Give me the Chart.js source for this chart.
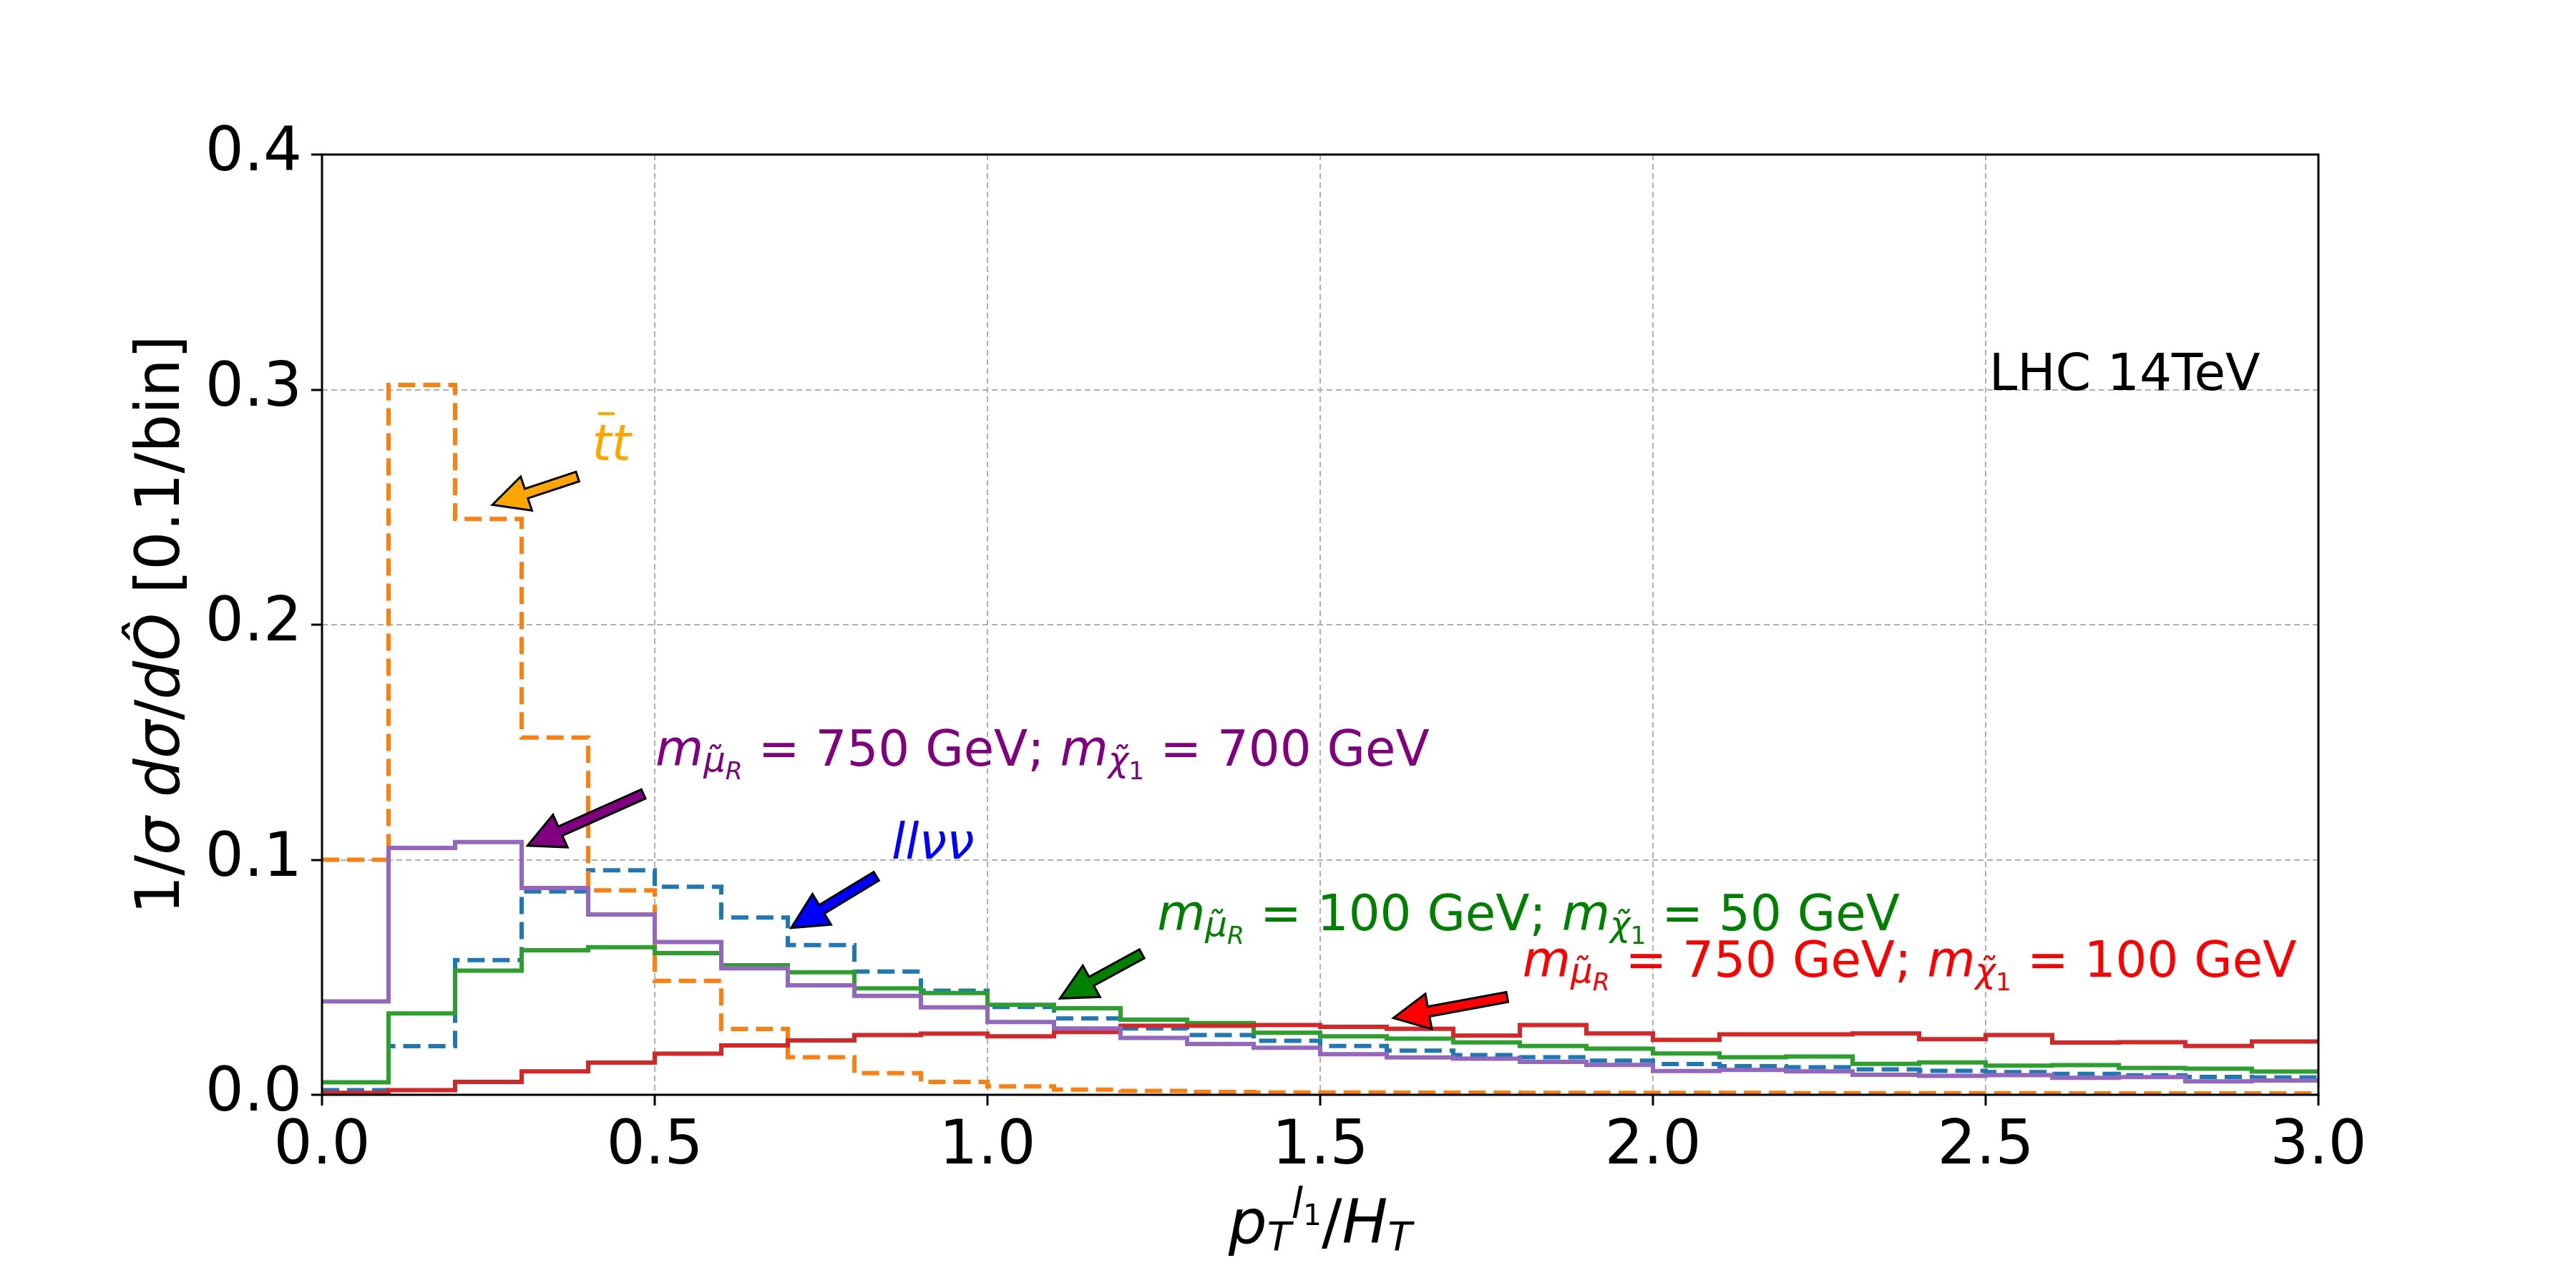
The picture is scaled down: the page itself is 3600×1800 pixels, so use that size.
<!DOCTYPE html>
<html lang="en">
<head>
<meta charset="UTF-8" />
<title>pT(l1)/HT distributions</title>
<script src="https://cdn.jsdelivr.net/npm/chart.js"></script>
<style>
  body { margin: 0; background: #fff; }
  canvas { display: block; }
</style>
</head>
<body>
<canvas id="chart" width="3600" height="1800"></canvas>
<script>
// bin edges (0.1 wide bins) and per-bin values
const binEdges = [0.0, 0.1, 0.2, 0.3, 0.4, 0.5, 0.6, 0.7, 0.8, 0.9, 1.0, 1.1, 1.2, 1.3, 1.4, 1.5,
  1.6, 1.7, 1.8, 1.9, 2.0, 2.1, 2.2, 2.3, 2.4, 2.5, 2.6, 2.7, 2.8, 2.9, 3.0];

const llvv = [0.0020, 0.0207, 0.0573, 0.0865, 0.0955, 0.0885, 0.0754, 0.0637, 0.0524, 0.0443,
  0.0374, 0.0325, 0.0282, 0.0254, 0.0230, 0.0208, 0.0188, 0.0169, 0.0160, 0.0145,
  0.0131, 0.0122, 0.0117, 0.0108, 0.0102, 0.0097, 0.0089, 0.0083, 0.0076, 0.0074];

const ttbar = [0.1000, 0.3020, 0.2450, 0.1520, 0.0870, 0.0485, 0.0280, 0.0160, 0.0092, 0.0055,
  0.0036, 0.0022, 0.0017, 0.0012, 0.0010, 0.0010, 0.0009, 0.0009, 0.0008, 0.0008,
  0.0008, 0.0008, 0.0007, 0.0007, 0.0007, 0.0007, 0.0006, 0.0006, 0.0006, 0.0006];

const mu100chi50 = [0.0053, 0.0346, 0.0528, 0.0615, 0.0628, 0.0603, 0.0551, 0.0521, 0.0453, 0.0433,
  0.0383, 0.0368, 0.0320, 0.0305, 0.0264, 0.0249, 0.0239, 0.0223, 0.0208, 0.0196,
  0.0176, 0.0160, 0.0163, 0.0132, 0.0138, 0.0124, 0.0126, 0.0114, 0.0111, 0.0099];

const mu750chi100 = [0.0008, 0.0020, 0.0055, 0.0100, 0.0137, 0.0175, 0.0210, 0.0231, 0.0254, 0.0260,
  0.0249, 0.0267, 0.0294, 0.0294, 0.0297, 0.0289, 0.0281, 0.0252, 0.0297, 0.0261,
  0.0234, 0.0257, 0.0257, 0.0261, 0.0237, 0.0254, 0.0222, 0.0224, 0.0208, 0.0227];

const mu750chi700 = [0.0397, 0.1050, 0.1075, 0.0880, 0.0767, 0.0650, 0.0538, 0.0466, 0.0421, 0.0372,
  0.0310, 0.0282, 0.0242, 0.0216, 0.0200, 0.0173, 0.0159, 0.0154, 0.0140, 0.0127,
  0.0101, 0.0106, 0.0100, 0.0085, 0.0081, 0.0084, 0.0072, 0.0075, 0.0057, 0.0061];

const xTickStep = 0.5;
const yTickStep = 0.1;

// annotation texts (left/baseline in data units) and arrows (tail -> tip)
const MU = "\u03BC\u0303", CHI = "\u03C7\u0303";
const notes = [
  { x: 0.406, y: 0.270, color: "#ffa500", text: "tt", bar: true,
    tail: [0.384, 0.263], tip: [0.256, 0.251] },
  { x: 0.501, y: 0.140, color: "#800080", text: ["750", "700"],
    tail: [0.483, 0.128], tip: [0.309, 0.106] },
  { x: 0.856, y: 0.1005, color: "#0000ff", text: "ll\u03BD\u03BD",
    tail: [0.833, 0.093], tip: [0.705, 0.071] },
  { x: 1.255, y: 0.070, color: "#008000", text: ["100", "50"],
    tail: [1.232, 0.060], tip: [1.109, 0.041] },
  { x: 1.804, y: 0.0502, color: "#ff0000", text: ["750", "100"],
    tail: [1.781, 0.0416], tip: [1.610, 0.0327] }
];
const lhcLabel = { x: 2.505, y: 0.2998, text: "LHC 14TeV" };

const FAMILY = "'DejaVu Sans'";
Chart.defaults.font.family = "DejaVu Sans";

function stepPoints(vals) {
  return binEdges.map((x, i) => ({ x: x, y: vals[Math.min(i, vals.length - 1)] }));
}

function fontOf(size, italic) {
  return (italic ? "italic " : "") + size + "px " + FAMILY;
}

// pieces: [text, italic, scale, shift(em, + is down)]
function richWidth(ctx, pieces, size) {
  let w = 0;
  pieces.forEach(p => {
    ctx.font = fontOf(size * (p[2] || 1), p[1]);
    w += ctx.measureText(p[0]).width;
  });
  return w;
}

function drawRich(ctx, pieces, x, y, size, color) {
  ctx.fillStyle = color;
  ctx.textBaseline = "alphabetic";
  ctx.textAlign = "left";
  let cx = x;
  pieces.forEach(p => {
    ctx.font = fontOf(size * (p[2] || 1), p[1]);
    ctx.fillText(p[0], cx, y + (p[3] || 0) * size);
    cx += ctx.measureText(p[0]).width;
  });
  return cx;
}

function massPieces(mu, chi) {
  return [
    ["m", 1, 1, 0], [MU, 1, 0.7, 0.12], ["R", 1, 0.5, 0.27],
    [" = " + mu + " GeV; ", 0, 1, 0],
    ["m", 1, 1, 0], [CHI, 1, 0.7, 0.12], ["1", 0, 0.5, 0.27],
    [" = " + chi + " GeV", 0, 1, 0]
  ];
}

function drawArrow(ctx, x0, y0, x1, y1, fill) {
  const dx = x1 - x0, dy = y1 - y0, len = Math.hypot(dx, dy);
  const ux = dx / len, uy = dy / len, nx = -uy, ny = ux;
  const hl = 50, hw = 25, sw = 7;
  const bx = x1 - ux * hl, by = y1 - uy * hl;
  ctx.beginPath();
  ctx.moveTo(x1, y1);
  ctx.lineTo(bx + nx * hw, by + ny * hw);
  ctx.lineTo(bx + nx * sw, by + ny * sw);
  ctx.lineTo(x0 + nx * sw, y0 + ny * sw);
  ctx.lineTo(x0 - nx * sw, y0 - ny * sw);
  ctx.lineTo(bx - nx * sw, by - ny * sw);
  ctx.lineTo(bx - nx * hw, by - ny * hw);
  ctx.closePath();
  ctx.fillStyle = fill;
  ctx.fill();
  ctx.lineWidth = 3;
  ctx.lineJoin = "miter";
  ctx.strokeStyle = "#000";
  ctx.stroke();
}

const notesPlugin = {
  id: "notes",
  afterDatasetsDraw(chart) {
    const { ctx, chartArea: a, scales: { x, y } } = chart;
    ctx.save();
    // full frame like matplotlib spines
    ctx.strokeStyle = "#000";
    ctx.lineWidth = 3;
    ctx.strokeRect(a.left, a.top, a.right - a.left, a.bottom - a.top);

    const size = 69;
    notes.forEach(n => {
      drawArrow(ctx, x.getPixelForValue(n.tail[0]), y.getPixelForValue(n.tail[1]),
        x.getPixelForValue(n.tip[0]), y.getPixelForValue(n.tip[1]), n.color);
      const px = x.getPixelForValue(n.x), py = y.getPixelForValue(n.y);
      if (Array.isArray(n.text)) {
        drawRich(ctx, massPieces(n.text[0], n.text[1]), px, py, size, n.color);
      } else {
        drawRich(ctx, [[n.text, 1, 1, 0]], px, py, size, n.color);
        if (n.bar) {
          ctx.font = fontOf(size, true);
          const tw = ctx.measureText("t").width;
          ctx.fillRect(px + 0.12 * size, py - 0.97 * size, tw * 0.85, 4);
        }
      }
    });

    ctx.font = fontOf(71, false);
    ctx.fillStyle = "#000";
    ctx.textAlign = "left";
    ctx.textBaseline = "alphabetic";
    ctx.fillText(lhcLabel.text, x.getPixelForValue(lhcLabel.x), y.getPixelForValue(lhcLabel.y));
    ctx.restore();
  },
  afterDraw(chart) {
    const { ctx, chartArea: a } = chart;
    const size = 85;
    ctx.save();
    // x axis title: p_T^{l_1}/H_T
    const xt = [["p", 1, 1, 0], ["T", 1, 0.65, 0.12], ["l", 1, 0.7, -0.41], ["1", 0, 0.48, -0.29],
      ["/", 0, 1, 0], ["H", 1, 1, 0], ["T", 1, 0.65, 0.12]];
    const xw = richWidth(ctx, xt, size);
    drawRich(ctx, xt, (a.left + a.right) / 2 - xw / 2, 1737, size, "#000");

    // y axis title: 1/sigma dsigma/dO^ [0.1/bin]
    const yt = [["1/", 0, 1, 0], ["\u03C3", 1, 1, 0], [" ", 0, 1, 0], ["d", 1, 1, 0], ["\u03C3", 1, 1, 0],
      ["/", 0, 1, 0], ["d", 1, 1, 0], ["\u00D4", 1, 1, 0], [" [0.1/bin]", 0, 1, 0]];
    const yw = richWidth(ctx, yt, size);
    ctx.translate(250, (a.top + a.bottom) / 2);
    ctx.rotate(-Math.PI / 2);
    drawRich(ctx, yt, -yw / 2, 0, size, "#000");
    ctx.restore();
  }
};

const series = [
  { label: "llvv", vals: llvv, color: "#1f77b4", dash: [24, 11], order: 4 },
  { label: "ttbar", vals: ttbar, color: "#ff7f0e", dash: [24, 11], order: 3 },
  { label: "m_mu 100 / m_chi 50", vals: mu100chi50, color: "#2ca02c", dash: [], order: 2 },
  { label: "m_mu 750 / m_chi 100", vals: mu750chi100, color: "#d62728", dash: [], order: 1 },
  { label: "m_mu 750 / m_chi 700", vals: mu750chi700, color: "#9467bd", dash: [], order: 0 }
];

const tickFont = { family: "DejaVu Sans", size: 85 };

new Chart(document.getElementById("chart"), {
  type: "line",
  data: {
    datasets: series.map(s => ({
      label: s.label,
      data: stepPoints(s.vals),
      borderColor: s.color,
      borderWidth: 6,
      borderDash: s.dash,
      borderCapStyle: "butt",
      stepped: true,
      fill: false,
      pointRadius: 0,
      order: s.order
    }))
  },
  options: {
    responsive: false,
    animation: false,
    devicePixelRatio: 1,
    layout: { padding: { top: 216, right: 360, left: 0, bottom: 0 } },
    plugins: { legend: { display: false }, tooltip: { enabled: false }, title: { display: false } },
    scales: {
      x: {
        type: "linear",
        min: 0,
        max: 3,
        afterFit: s => { s.height = 270; },
        ticks: {
          stepSize: xTickStep, padding: 8, color: "#000", font: tickFont,
          maxRotation: 0, autoSkip: false, callback: v => Number(v).toFixed(1)
        },
        grid: { color: "#b0b0b0", lineWidth: 2, tickLength: 15, tickWidth: 3, tickColor: "#000" },
        border: { display: false, dash: [8, 5] }
      },
      y: {
        min: 0,
        max: 0.4,
        afterFit: s => { s.width = 450; },
        ticks: {
          stepSize: yTickStep, padding: 13, color: "#000", font: tickFont,
          callback: v => Number(v).toFixed(1)
        },
        grid: { color: "#b0b0b0", lineWidth: 2, tickLength: 15, tickWidth: 3, tickColor: "#000" },
        border: { display: false, dash: [8, 5] }
      }
    }
  },
  plugins: [notesPlugin]
});
</script>
</body>
</html>
